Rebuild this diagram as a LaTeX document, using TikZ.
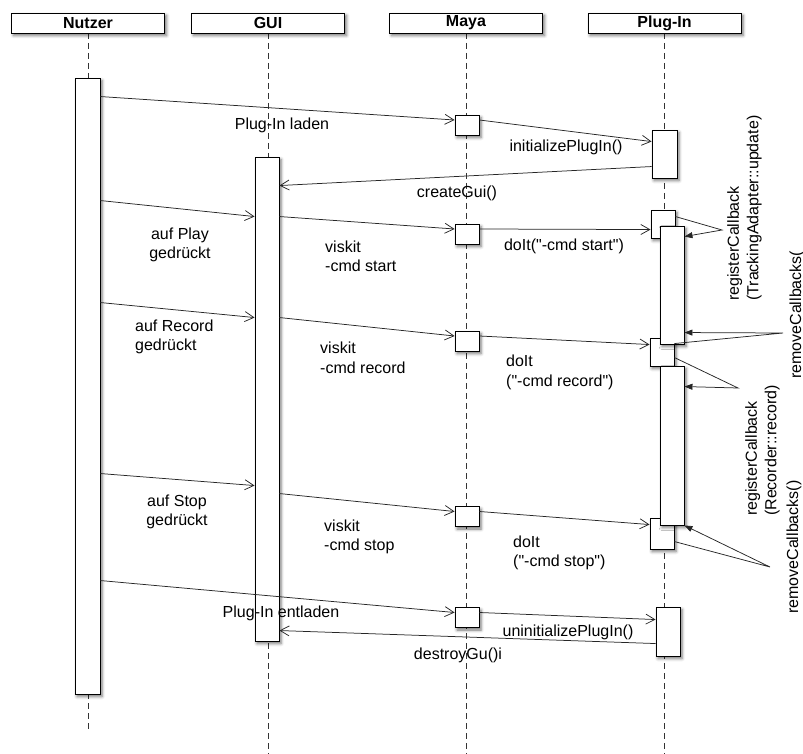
\documentclass[tikz,border=0pt]{standalone}
\usepackage{fontspec}
\setmainfont{Liberation Sans}[Ligatures=TeXOff]
\usetikzlibrary{arrows.meta,shadows.blur}

\begin{document}
\begin{tikzpicture}[x=1pt,y=-1pt,
    font=\fontsize{16}{19.5}\selectfont,
    every node/.style={inner sep=0pt},
    boxshadow/.style={blur shadow={shadow xshift=2pt,shadow yshift=-2.5pt,shadow blur radius=3pt,shadow opacity=55}},
    headnode/.style={draw,fill=white,line width=0.9pt,minimum width=153pt,minimum height=20pt,
        font=\fontsize{16}{19.5}\selectfont\bfseries,boxshadow},
    actnode/.style={draw,fill=white,line width=0.9pt,minimum width=24pt,boxshadow},
    lifeline/.style={draw=black!80,line width=0.7pt,dash pattern=on 6pt off 4pt},
    msg/.style={draw=black!85,line width=0.75pt,-{Straight Barb[length=9pt,width=10pt]}},
    selfmsg/.style={draw=black!85,line width=0.75pt,-{Triangle[length=8pt,width=6pt]}},
    lbl/.style={align=left}
    ]
    \useasboundingbox (0,0) rectangle (803,754);

    % the heads and their lifelines
    \foreach \name/\x/\txt/\yend in {nutzer/88/Nutzer/730,gui/268/GUI/754,maya/466/Maya/754,plugin/664.5/Plug-In/754}{
        \coordinate (\name end) at (\x,\yend);
        \draw[lifeline] (\x,33) -- (\name end);
        \node[headnode] (\name) at (\x,23) {\txt};
    }

    % activations of Nutzer and GUI
    \node[actnode,minimum width=25pt,minimum height=616pt] (nAct) at (87.5,386) {};
    \node[actnode,minimum height=484pt] (gAct) at (267,399) {};

    % activations of Maya
    \foreach \i/\y in {1/125,2/234,3/341,4/516.5,5/617.5}
    \node[actnode,minimum height=20pt] (m\i) at (467,\y) {};

    % activations of the Plug-In
    \node[actnode,minimum width=25pt,minimum height=48pt] (p1) at (664.5,154) {};
    \node[actnode,minimum height=28pt] (p2) at (663,224) {};
    \node[actnode,minimum height=28pt] (p3) at (662,352) {};
    \node[actnode,minimum height=31pt] (p4) at (662,533.5) {};
    \node[actnode,minimum height=49pt] (p5) at (668,631.5) {};
    \node[actnode,minimum height=118pt] (pLong1) at (672,285) {};
    \node[actnode,minimum height=159pt] (pLong2) at (672,445.5) {};

    % the messages
    \draw[msg] ([yshift=-19pt]nAct.north east) -- ([yshift=5pt]m1.west);
    \draw[msg] ([yshift=5pt]m1.east) -- ([yshift=-12pt]p1.north west);
    \draw[msg] ([yshift=-37pt]p1.north west) -- ([yshift=-29pt]gAct.north east);
    \draw[msg] ([yshift=-123pt]nAct.north east) -- ([yshift=-60pt]gAct.north west);
    \draw[msg] ([yshift=-60pt]gAct.north east) -- ([yshift=5pt]m2.west);
    \draw[msg] ([yshift=5pt]m2.east) -- ([yshift=-20pt]p2.north west);
    \draw[msg] ([yshift=-225pt]nAct.north east) -- ([yshift=-161pt]gAct.north west);
    \draw[msg] ([yshift=-161pt]gAct.north east) -- ([yshift=5pt]m3.west);
    \draw[msg] ([yshift=5pt]m3.east) -- ([yshift=-7pt]p3.north west);
    \draw[msg] ([yshift=-396pt]nAct.north east) -- ([yshift=-329pt]gAct.north west);
    \draw[msg] ([yshift=-337pt]gAct.north east) -- ([yshift=5pt]m4.west);
    \draw[msg] ([yshift=5pt]m4.east) -- ([yshift=-7pt]p4.north west);
    \draw[msg] ([yshift=-503pt]nAct.north east) -- ([yshift=5pt]m5.west);
    \draw[msg] ([yshift=5pt]m5.east) -- ([yshift=-13pt]p5.north west);
    \draw[msg] ([yshift=-37pt]p5.north west) -- ([yshift=-474pt]gAct.north east);

    % the callbacks
    \coordinate (cb1) at (722,230);
    \coordinate (rc1) at (783,333);
    \coordinate (cb2) at (738,388);
    \coordinate (rc2) at (770,567);
    \draw[selfmsg] ([yshift=-7pt]p2.north east) -- (cb1) -- ([yshift=-11pt]pLong1.north east);
    \draw[selfmsg] ([yshift=-6pt]p3.north east) -- (rc1) -- ([yshift=-107pt]pLong1.north east);
    \draw[selfmsg] ([yshift=-20pt]p3.north east) -- (cb2) -- ([yshift=-21pt]pLong2.north east);
    \draw[selfmsg] ([yshift=-24pt]p4.north east) -- (rc2) -- (pLong2.south east);

    % the labels
    \node (lLaden) at (282,125) {Plug-In laden};
    \node (lInit) at (566,147) {initializePlugIn()};
    \node (lCreate) at (457,193) {createGui()};
    \node (lPlay) [align=center] at (180,245) {auf Play\\gedrückt};
    \node (lViskit1) [lbl,anchor=west] at (325,256.5) {viskit\\-cmd start};
    \node (lDoit1) at (564,246) {doIt("-cmd start")};
    \node (lRecord) [lbl,anchor=west] at (135,337) {auf Record\\gedrückt};
    \node (lViskit2) [lbl,anchor=west] at (320,358) {viskit\\-cmd record};
    \node (lDoit2) [lbl,anchor=west] at (506,372.5) {doIt\\("-cmd record")};
    \node (lStop) [align=center] at (177,512) {auf Stop\\gedrückt};
    \node (lViskit3) [lbl,anchor=west] at (324,537) {viskit\\-cmd stop};
    \node (lDoit3) [lbl,anchor=west] at (513,553) {doIt\\("-cmd stop")};
    \node (lEntladen) at (281,613) {Plug-In entladen};
    \node (lUninit) at (568,632) {uninitializePlugIn()};
    \node (lDestroy) at (458,655) {destroyGu()i};
    \node (lReg1) [lbl,rotate=90,anchor=north west] at (727,301) {registerCallback\\(TrackingAdapter::update)};
    \node (lRem1) [rotate=90,anchor=west] at (797,379) {removeCallbacks(};
    \node (lReg2) [lbl,rotate=90,anchor=north west] at (745,516) {registerCallback\\(Recorder::record)};
    \node (lRem2) [rotate=90,anchor=west] at (794,614) {removeCallbacks()};
\end{tikzpicture}
\end{document}
